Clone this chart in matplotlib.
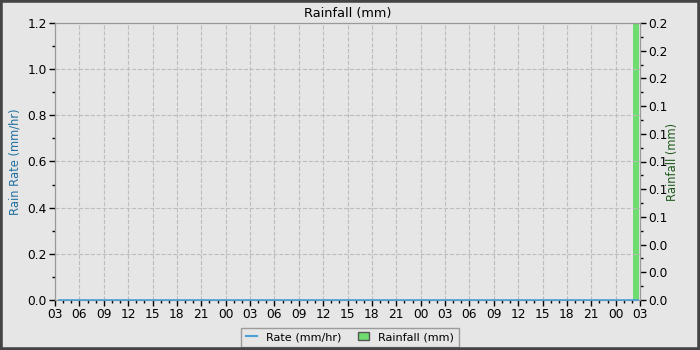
import matplotlib
matplotlib.use("Agg")
import matplotlib.pyplot as plt
from matplotlib.ticker import MultipleLocator, FuncFormatter, FormatStrFormatter
from matplotlib.lines import Line2D
from matplotlib.patches import Patch

# данные: часы от 03:00 первого дня
start_hour = 3
span_hours = 72
rate_hours = [0.5, 71.7]
rate_values = [0.0, 0.0]
rain_hours = [71.5]
rain_mm = [0.2]

bg = "#e6e6e6"
plt.rcParams["font.size"] = 8.8

fig = plt.figure(figsize=(7, 3.5), dpi=100, facecolor=bg)
ax = fig.add_axes([55 / 700, 50 / 350, 585 / 700, 277 / 350])
ax.set_facecolor(bg)
ax2 = ax.twinx()

ax2.bar(rain_hours, rain_mm, width=0.72, color="#6fdc6f", align="center", zorder=2)
ax.plot(rate_hours, rate_values, color="#4a9fd5", linewidth=1.2, zorder=5, clip_on=False)
ax.set_zorder(ax2.get_zorder() + 1)
ax.patch.set_visible(False)
ax2.patch.set_facecolor(bg)

ax.set_xlim(0, span_hours)
ax.set_ylim(0, 1.2)
ax2.set_ylim(0, 0.2)

ax.xaxis.set_major_locator(MultipleLocator(3))
ax.xaxis.set_minor_locator(MultipleLocator(1))
ax.xaxis.set_major_formatter(FuncFormatter(lambda v, p: "%02d" % ((int(round(v)) + start_hour) % 24)))
ax.yaxis.set_major_locator(MultipleLocator(0.2))
ax.yaxis.set_minor_locator(MultipleLocator(0.1))
ax.yaxis.set_major_formatter(FormatStrFormatter("%.1f"))
ax2.yaxis.set_major_locator(MultipleLocator(0.02))
ax2.yaxis.set_minor_locator(MultipleLocator(0.01))
ax2.yaxis.set_major_formatter(FormatStrFormatter("%.1f"))

for a in (ax, ax2):
    for s in a.spines.values():
        s.set_color("#999999")
    a.tick_params(which="major", length=4, width=1, colors="black", pad=2)
    a.tick_params(which="minor", length=2.5, width=1, colors="black")

ax.grid(True, which="major", linestyle="--", color="#bdbdbd", linewidth=0.8)

ax.set_title("Rainfall (mm)", fontsize=9.3, pad=4)
ax.set_ylabel("Rain Rate (mm/hr)", color="#1f6fa0", fontsize=8.3, labelpad=4)
ax2.set_ylabel("Rainfall (mm)", color="#1e5a1e", fontsize=8.3, labelpad=-1)

handles = [Line2D([0], [0], color="#4a9fd5", linewidth=1.5),
           Patch(facecolor="#6fdc6f", edgecolor="#555555")]
fig.legend(handles, ["Rate (mm/hr)", "Rainfall (mm)"], loc="center",
           bbox_to_anchor=(350 / 700, 1 - 337 / 350), ncol=2, frameon=True,
           fancybox=False, edgecolor="#888888", facecolor=bg, fontsize=8.1,
           handlelength=1.0, handleheight=0.7, columnspacing=1.5, borderpad=0.4)

# тёмная рамка вокруг всей картинки
fig.add_artist(plt.Rectangle((0, 0), 1, 1, transform=fig.transFigure, fill=False,
                             edgecolor="#444444", linewidth=4, zorder=10))

fig.savefig("out.png", dpi=100, facecolor=bg)
